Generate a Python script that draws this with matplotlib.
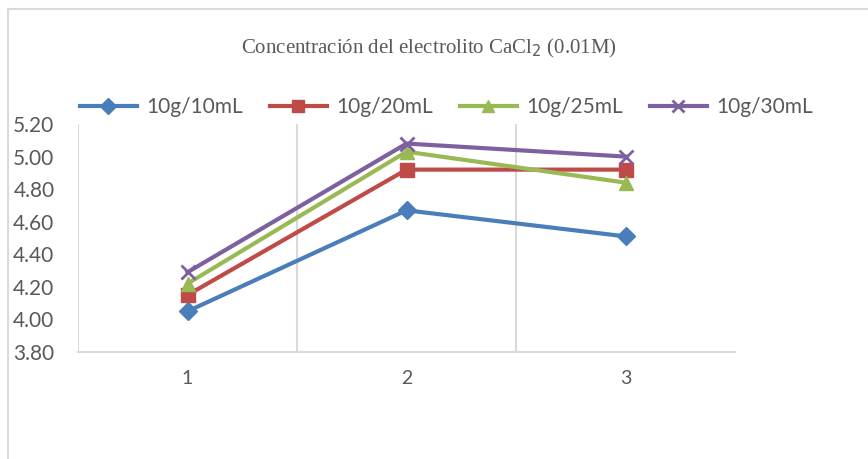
import numpy as np
import matplotlib.pyplot as plt

# datos
x = [1, 2, 3]
labels = ["10g/10mL", "10g/20mL", "10g/25mL", "10g/30mL"]
s10 = [4.05, 4.67, 4.51]
s20 = [4.15, 4.92, 4.92]
s25 = [4.22, 5.03, 4.84]
s30 = [4.29, 5.08, 5.00]
yticks = [3.80, 4.00, 4.20, 4.40, 4.60, 4.80, 5.00, 5.20]

colors = ["#4a7ebb", "#be4b48", "#98b954", "#7d60a0"]
markers = ["D", "s", "^", "x"]
msizes = [9, 10, 10, 10]

gray = "#595959"
plt.rcParams['font.family'] = ['Lato', 'DejaVu Sans']

fig = plt.figure(figsize=(8.68, 4.59), dpi=100)
ax = fig.add_axes([0.0899, 0.2331, 0.757, 0.4967])

series = [s10, s20, s25, s30]
for i in range(4):
    ax.plot(x, series[i], color=colors[i], lw=3, marker=markers[i],
            ms=msizes[i], mew=2 if markers[i] == "x" else 1,
            mec=colors[i], label=labels[i])

ax.set_xlim(0.5, 3.5)
ax.set_ylim(3.80, 5.20)
ax.set_yticks(yticks)
ax.set_yticklabels(["%.2f" % v for v in yticks])
ax.set_xticks(x)
ax.tick_params(length=0, labelsize=15, colors=gray)
ax.tick_params(axis='x', pad=13, labelsize=14)
ax.tick_params(axis='y', pad=17)

for sp in ["top", "right", "left"]:
    ax.spines[sp].set_visible(False)
ax.spines["bottom"].set_color("#d9d9d9")
ax.spines["bottom"].set_linewidth(1.5)
for xv in [0.5, 1.5, 2.5]:
    ax.axvline(xv, color="#d9d9d9", lw=1.5, zorder=0)

fig.text(0.494, 0.895, "Concentración del electrolito CaCl$_2$ (0.01M)",
         ha="center", va="center", fontsize=15, color=gray,
         family="Liberation Serif")

leg = fig.legend(loc="center", bbox_to_anchor=(0.514, 0.767), ncol=4,
                 frameon=False, fontsize=15, handlelength=2.75,
                 columnspacing=1.3, handletextpad=0.43)
for t in leg.get_texts():
    t.set_color(gray)
for h in leg.legend_handles:
    h.set_markersize(8)

# borde del grafico
fig.add_artist(plt.Line2D([8/868, 8/868], [0, 1-9/459], transform=fig.transFigure,
                          color="#d9d9d9", lw=1.5))
fig.add_artist(plt.Line2D([8/868, 1], [1-9/459, 1-9/459], transform=fig.transFigure,
                          color="#d9d9d9", lw=1.5))

fig.savefig("out.png", dpi=100)
